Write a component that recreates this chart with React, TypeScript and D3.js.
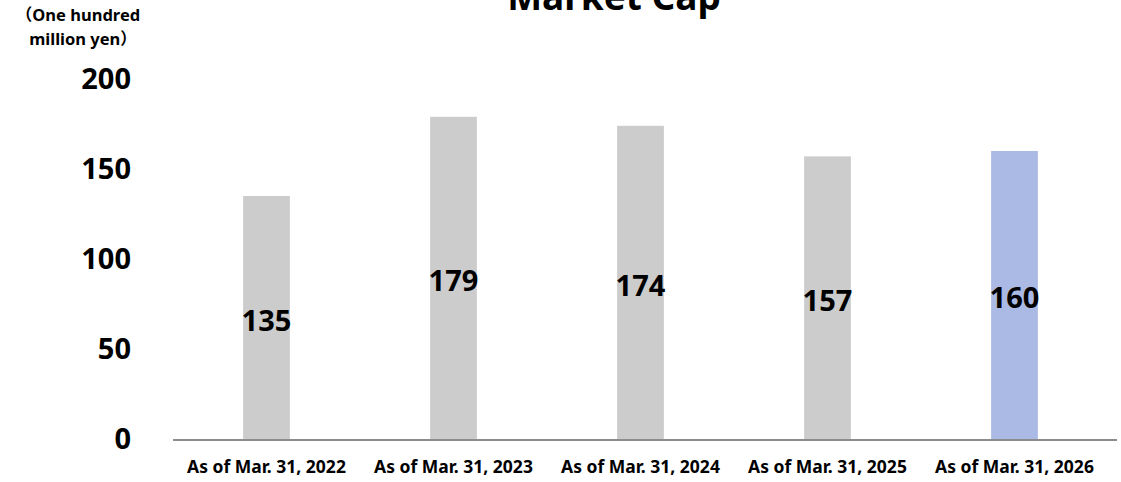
import React, { useEffect, useRef } from "react";
import * as d3 from "d3";

const categories = [
  "As of Mar. 31, 2022",
  "As of Mar. 31, 2023",
  "As of Mar. 31, 2024",
  "As of Mar. 31, 2025",
  "As of Mar. 31, 2026",
];
const values = [135, 179, 174, 157, 160];
const barColors = ["#cccccc", "#cccccc", "#cccccc", "#cccccc", "#abbae4"];
const yTicks = [0, 50, 100, 150, 200];

const WIDTH = 1121;
const HEIGHT = 482;
const FONT = "'Noto Sans', 'Open Sans', 'Noto Sans CJK JP', sans-serif";

export default function App() {
  const ref = useRef<SVGSVGElement>(null);

  useEffect(() => {
    const vis = d3.select(ref.current);
    vis.selectAll("*").remove();

    const x = d3.scaleBand<string>()
      .domain(categories)
      .range([173, 1108])
      .paddingInner(0.75)
      .paddingOuter(0.375);
    const y = d3.scaleLinear().domain([0, 200]).range([439, 79]);

    // title (cut off at top, as in the source)
    vis.append("text")
      .attr("x", 614)
      .attr("y", 10)
      .attr("text-anchor", "middle")
      .style("font-family", FONT)
      .style("font-weight", "bold")
      .style("font-size", "37px")
      .text("Market Cap");

    // unit label
    const unit = vis.append("text")
      .attr("text-anchor", "middle")
      .style("font-family", "'Noto Sans', 'Noto Sans CJK JP', sans-serif")
      .style("font-weight", "bold")
      .style("font-size", "16.5px");
    unit.append("tspan").attr("x", 78).attr("y", 21).text("（One hundred");
    unit.append("tspan").attr("x", 83).attr("y", 45).text("million yen）");

    // y tick labels
    vis.selectAll(".ytick")
      .data(yTicks)
      .enter()
      .append("text")
      .attr("class", "ytick")
      .attr("x", 131)
      .attr("y", (d) => y(d))
      .attr("dy", "0.35em")
      .attr("text-anchor", "end")
      .style("font-family", FONT)
      .style("font-weight", "bold")
      .style("font-size", "29px")
      .text((d) => d);

    // bars
    vis.selectAll(".bar")
      .data(values)
      .enter()
      .append("rect")
      .attr("class", "bar")
      .attr("x", (d, i) => x(categories[i])!)
      .attr("width", x.bandwidth())
      .attr("y", (d) => y(d))
      .attr("height", (d) => y(0) - y(d))
      .attr("fill", (d, i) => barColors[i]);

    // value labels
    vis.selectAll(".val")
      .data(values)
      .enter()
      .append("text")
      .attr("class", "val")
      .attr("x", (d, i) => x(categories[i])! + x.bandwidth() / 2)
      .attr("y", (d) => (y(d) + y(0)) / 2 + 3)
      .attr("dy", "0.35em")
      .attr("text-anchor", "middle")
      .style("font-family", FONT)
      .style("font-weight", "bold")
      .style("font-size", "29px")
      .text((d) => d);

    // x axis line
    vis.append("line")
      .attr("x1", 173)
      .attr("x2", 1117)
      .attr("y1", y(0) + 1)
      .attr("y2", y(0) + 1)
      .attr("stroke", "#8c8c8c")
      .attr("stroke-width", 2);

    // category labels
    vis.selectAll(".cat")
      .data(categories)
      .enter()
      .append("text")
      .attr("class", "cat")
      .attr("x", (d) => x(d)! + x.bandwidth() / 2)
      .attr("y", 467)
      .attr("dy", "0.35em")
      .attr("text-anchor", "middle")
      .style("font-family", FONT)
      .style("font-weight", "bold")
      .style("font-size", "17.5px")
      .text((d) => d);
  }, []);

  return (
    <svg
      ref={ref}
      width={WIDTH}
      height={HEIGHT}
      style={{ position: "absolute", left: 0, top: 0, background: "#fff" }}
    ></svg>
  );
}
